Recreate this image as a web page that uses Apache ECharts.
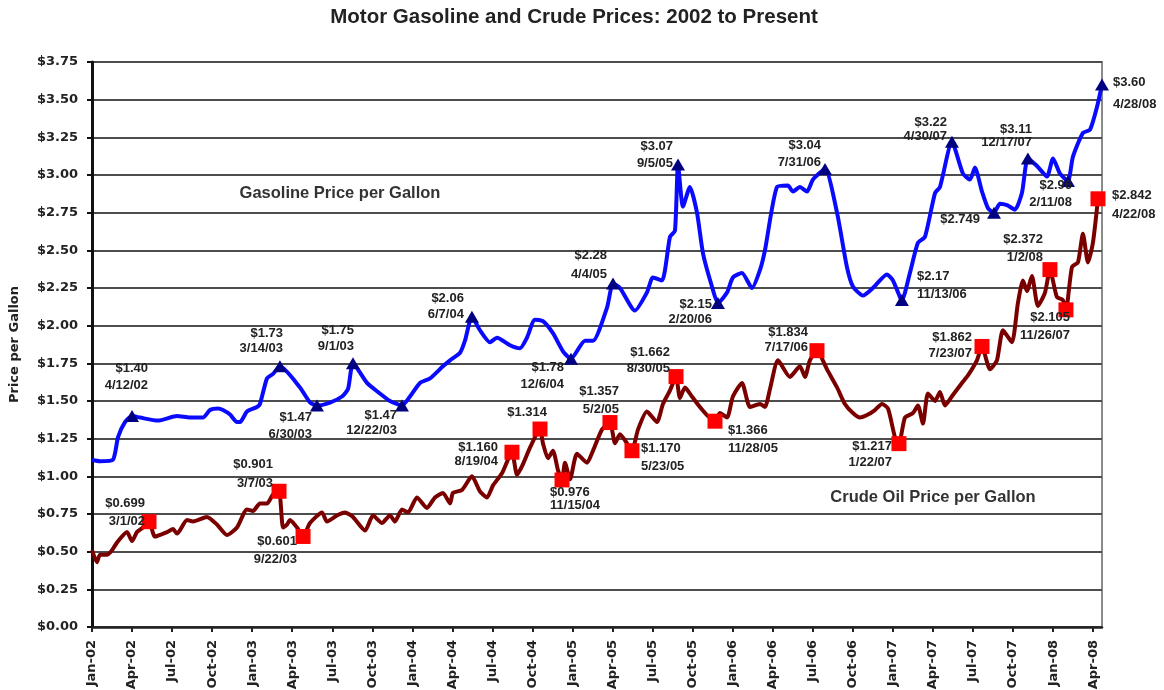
<!DOCTYPE html>
<html>
<head>
<meta charset="utf-8">
<script src="https://cdn.jsdelivr.net/npm/echarts@6/dist/echarts.min.js"></script>
<style>
html, body { margin: 0; padding: 0; background: #fff; }
#chart { width: 1164px; height: 690px; }
</style>
</head>
<body>
<div id="chart"></div>
<script>
// x values are months counted from Jan-02 (0 = Jan 2002, 3 = Apr 2002 ...)
var monthNames = ['Jan', 'Feb', 'Mar', 'Apr', 'May', 'Jun', 'Jul', 'Aug', 'Sep', 'Oct', 'Nov', 'Dec'];

// gasoline, $/gallon
var gasMonths = [0, 0.6, 1.57, 1.95, 2.47, 3.0, 3.6, 4.94, 6.37, 7.34, 8.31, 8.84, 9.44, 9.81, 10.34, 10.86, 11.09, 11.61, 12.36, 12.58,
  13.11, 13.56, 14.08, 15.58, 16.33, 16.85, 17.83, 18.73, 19.18, 19.55, 20.6, 21.42, 22.32, 23.22, 23.82, 24.57, 25.32, 26.29, 26.82, 27.57,
  27.94, 28.46, 29.06, 29.81, 30.34, 31.31, 32.06, 32.58, 33.18, 33.78, 34.53, 35.28, 35.88, 36.93, 37.53, 38.58, 39.03, 39.55, 40.67, 41.57,
  42.02, 42.7, 43.3, 43.67, 43.9, 44.27, 44.79, 45.32, 45.77, 46.44, 46.89, 47.57, 48.01, 48.69, 49.44, 50.04, 50.41, 51.31, 52.13, 52.51,
  53.03, 53.56, 54.01, 54.91, 55.81, 56.55, 57.0, 57.75, 58.5, 59.55, 60.0, 60.67, 61.27, 61.87, 62.4, 63.15, 63.52, 64.42, 65.24, 65.77,
  66.14, 66.67, 67.12, 67.57, 68.01, 68.54, 69.14, 69.66, 70.11, 70.79, 71.54, 71.99, 72.51, 73.11, 73.48, 74.23, 74.76, 75.28, 75.66];
var gasPrices = [1.11, 1.10, 1.11, 1.26, 1.36, 1.40, 1.39, 1.37, 1.40, 1.39, 1.39, 1.44, 1.45, 1.44, 1.41, 1.36, 1.36, 1.43, 1.46, 1.48,
  1.65, 1.68, 1.73, 1.59, 1.49, 1.47, 1.49, 1.53, 1.58, 1.75, 1.62, 1.56, 1.50, 1.47, 1.53, 1.62, 1.65, 1.73, 1.77, 1.82,
  1.90, 2.06, 1.97, 1.89, 1.92, 1.87, 1.85, 1.92, 2.04, 2.03, 1.95, 1.83, 1.78, 1.90, 1.90, 2.12, 2.28, 2.25, 2.10, 2.22,
  2.32, 2.30, 2.59, 2.63, 3.07, 2.79, 2.92, 2.75, 2.48, 2.26, 2.15, 2.22, 2.32, 2.35, 2.25, 2.37, 2.50, 2.92, 2.93, 2.89,
  2.92, 2.89, 2.97, 3.04, 2.75, 2.39, 2.26, 2.20, 2.25, 2.34, 2.30, 2.17, 2.35, 2.55, 2.59, 2.88, 2.92, 3.22, 3.01, 2.97,
  3.05, 2.89, 2.78, 2.749, 2.81, 2.80, 2.77, 2.88, 3.11, 3.06, 2.99, 3.11, 3.01, 2.96, 3.12, 3.28, 3.30, 3.45, 3.60];

// crude oil, $/gallon
var crudeMonths = [0, 0.37, 0.6, 1.12, 1.5, 1.87, 2.62, 3.0, 3.37, 3.82, 4.27, 4.72, 5.62, 6.07, 6.37, 7.12, 7.57, 8.61, 9.36, 10.11,
  10.86, 11.61, 12.06, 12.58, 13.11, 13.56, 14.01, 14.31, 14.61, 14.83, 15.36, 15.81, 16.33, 17.23, 17.6, 18.35, 18.95, 19.55, 20.45, 21.05,
  21.72, 22.32, 22.7, 23.22, 23.67, 24.34, 25.09, 25.69, 26.29, 26.82, 27.04, 27.72, 28.46, 29.06, 29.59, 30.04, 30.71, 31.46, 31.84, 32.28,
  32.81, 33.56, 33.78, 34.16, 34.53, 34.91, 35.21, 35.43, 35.81, 36.33, 37.08, 37.53, 38.2, 38.8, 39.18, 39.55, 40.07, 40.45, 40.9, 41.57,
  42.32, 42.77, 43.3, 43.75, 44.04, 44.42, 44.94, 45.54, 46.14, 46.67, 47.04, 47.57, 48.01, 48.69, 49.29, 50.04, 50.41, 50.79, 51.39, 52.28,
  53.03, 53.41, 53.78, 54.31, 55.06, 55.81, 56.4, 57.0, 57.53, 58.13, 58.65, 59.18, 59.63, 60.15, 60.45, 60.9, 61.5, 61.87, 62.25, 62.62,
  63.15, 63.52, 63.9, 64.49, 65.17, 65.62, 66.29, 66.67, 67.27, 67.79, 68.24, 68.91, 69.36, 69.74, 70.04, 70.41, 70.86, 71.39, 71.76, 72.28,
  72.73, 72.96, 73.41, 73.86, 74.23, 74.61, 74.98, 75.36];
var crudePrices = [0.51, 0.43, 0.48, 0.48, 0.51, 0.56, 0.63, 0.57, 0.63, 0.66, 0.699, 0.60, 0.63, 0.65, 0.62, 0.71, 0.70, 0.73, 0.68, 0.61,
  0.66, 0.78, 0.77, 0.82, 0.82, 0.88, 0.901, 0.66, 0.68, 0.71, 0.66, 0.601, 0.69, 0.76, 0.70, 0.74, 0.76, 0.73, 0.64, 0.74,
  0.69, 0.74, 0.70, 0.78, 0.76, 0.86, 0.79, 0.86, 0.89, 0.82, 0.89, 0.91, 1.00, 0.90, 0.86, 0.94, 1.02, 1.160, 1.01, 1.08,
  1.19, 1.314, 1.22, 1.12, 1.17, 1.04, 0.976, 1.09, 0.98, 1.15, 1.09, 1.17, 1.31, 1.357, 1.22, 1.28, 1.22, 1.170, 1.31, 1.43,
  1.36, 1.48, 1.57, 1.662, 1.52, 1.59, 1.53, 1.46, 1.40, 1.366, 1.42, 1.39, 1.53, 1.62, 1.46, 1.48, 1.46, 1.58, 1.77, 1.66,
  1.73, 1.66, 1.77, 1.834, 1.71, 1.59, 1.48, 1.42, 1.39, 1.41, 1.44, 1.48, 1.45, 1.26, 1.217, 1.39, 1.42, 1.47, 1.35, 1.55,
  1.50, 1.56, 1.47, 1.54, 1.62, 1.67, 1.77, 1.862, 1.71, 1.77, 1.97, 1.89, 2.15, 2.30, 2.23, 2.33, 2.13, 2.22, 2.372, 2.19,
  2.17, 2.105, 2.39, 2.42, 2.61, 2.42, 2.55, 2.842];

// highs and lows called out on the gasoline line
var gasNoteMonths = [3.0, 14.08, 16.85, 19.55, 23.22, 28.46, 35.88, 39.03, 43.9, 46.89, 54.91, 60.67, 64.42, 67.57, 70.11, 73.11, 75.66];
var gasNotePrices = [1.40, 1.73, 1.47, 1.75, 1.47, 2.06, 1.78, 2.28, 3.07, 2.15, 3.04, 2.17, 3.22, 2.749, 3.11, 2.96, 3.60];
var gasNoteLabels = ['$1.40', '$1.73', '$1.47', '$1.75', '$1.47', '$2.06', '$1.78', '$2.28', '$3.07', '$2.15', '$3.04', '$2.17', '$3.22', '$2.749', '$3.11', '$2.96', '$3.60'];
var gasNoteDates = ['4/12/02', '3/14/03', '6/30/03', '9/1/03', '12/22/03', '6/7/04', '12/6/04', '4/4/05', '9/5/05', '2/20/06', '7/31/06', '11/13/06', '4/30/07', '', '12/17/07', '2/11/08', '4/28/08'];

// highs and lows called out on the crude line
var crudeNoteMonths = [4.27, 14.01, 15.81, 31.46, 33.56, 35.21, 38.8, 40.45, 43.75, 46.67, 54.31, 60.45, 66.67, 71.76, 72.96, 75.36];
var crudeNotePrices = [0.699, 0.901, 0.601, 1.160, 1.314, 0.976, 1.357, 1.170, 1.662, 1.366, 1.834, 1.217, 1.862, 2.372, 2.105, 2.842];
var crudeNoteLabels = ['$0.699', '$0.901', '$0.601', '$1.160', '$1.314', '$0.976', '$1.357', '$1.170', '$1.662', '$1.366', '$1.834', '$1.217', '$1.862', '$2.372', '$2.105', '$2.842'];
var crudeNoteDates = ['3/1/02', '3/7/03', '9/22/03', '8/19/04', '', '11/15/04', '5/2/05', '5/23/05', '8/30/05', '11/28/05', '7/17/06', '1/22/07', '7/23/07', '1/2/08', '11/26/07', '4/22/08'];

// where each callout text sits relative to its marker: [dx, dy, align, lineHeight]
var gasNoteLayout = [[16, -56, 'right', 17], [3, -40, 'right', 15], [-5, 3, 'right', 17], [1, -41, 'right', 16], [-5, 2, 'right', 15],
  [-8, -26, 'right', 16], [-7, 0, 'right', 17], [-6, -38, 'right', 19], [-5, -27, 'right', 17], [-6, -6, 'right', 15],
  [-4, -32, 'right', 17], [15, -33, 'left', 18], [-5, -26, 'right', 14], [-14, -1, 'right', 16], [4, -36, 'right', 13],
  [4, -4, 'right', 17], [11, -13, 'left', 22]];
var crudeNoteLayout = [[-4, -27, 'right', 18], [-6, -36, 'right', 19], [-6, -4, 'right', 18], [-14, -12, 'right', 14], [7, -25, 'right', 16],
  [-12, 6, 'left', 13], [9, -40, 'right', 18], [9, -11, 'left', 18], [-6, -32, 'right', 16], [13, 0, 'left', 18],
  [-9, -26, 'right', 15], [-7, -5, 'right', 16], [-10, -17, 'right', 16], [-7, -39, 'right', 18], [4, -1, 'right', 18],
  [14, -13, 'left', 19]];

function pairs(xs, ys) {
  return xs.map(function (x, i) { return [x, ys[i]]; });
}

function notes(months, prices, labels, dates, layout) {
  return months.map(function (m, i) {
    var l = layout[i];
    return {
      value: [m, prices[i]],
      label: {
        formatter: labels[i] + (dates[i] ? '\n' + dates[i] : ''),
        offset: [l[0], l[1]],
        align: l[2],
        lineHeight: l[3]
      }
    };
  });
}

var noteLabel = {
  show: true,
  position: 'inside',
  verticalAlign: 'top',
  color: '#222',
  fontFamily: 'Liberation Sans',
  fontWeight: 'bold',
  fontSize: 13,
  textBorderWidth: 0
};

var chart = echarts.init(document.getElementById('chart'));
chart.setOption({
  animation: false,
  backgroundColor: '#fff',
  grid: {
    left: 92, right: 62, top: 62, bottom: 63,
    outerBoundsMode: 'none',
    show: true, borderColor: '#8a8a8a', borderWidth: 2
  },
  graphic: [
    { type: 'text', x: 574, y: 17, style: { text: 'Motor Gasoline and Crude Prices: 2002 to Present', font: 'bold 20.5px "Liberation Sans"', fill: '#222', textAlign: 'center', textVerticalAlign: 'middle' } },
    { type: 'text', x: 340, y: 193, style: { text: 'Gasoline Price per Gallon', font: 'bold 16.5px "Liberation Sans"', fill: '#333', textAlign: 'center', textVerticalAlign: 'middle' } },
    { type: 'text', x: 933, y: 497, style: { text: 'Crude Oil Price per Gallon', font: 'bold 16.5px "Liberation Sans"', fill: '#333', textAlign: 'center', textVerticalAlign: 'middle' } }
  ],
  xAxis: {
    type: 'value',
    min: 0,
    max: 75.66,
    interval: 3,
    axisLine: { show: true, lineStyle: { color: '#222', width: 2.5 } },
    axisTick: { show: true, length: 5, lineStyle: { color: '#222', width: 2 } },
    splitLine: { show: false },
    axisLabel: {
      rotate: 90,
      margin: 13,
      color: '#222',
      fontFamily: 'DejaVu Sans',
      fontWeight: 'bold',
      fontSize: 13,
      showMaxLabel: false,
      formatter: function (v) {
        var m = Math.round(v);
        if (Math.abs(v - m) > 1e-6 || m % 3) return '';
        var yr = 2 + Math.floor(m / 12);
        return monthNames[m % 12] + '-' + (yr < 10 ? '0' + yr : yr);
      }
    }
  },
  yAxis: {
    type: 'value',
    min: 0,
    max: 3.75,
    interval: 0.25,
    name: 'Price per Gallon',
    nameLocation: 'middle',
    nameRotate: 90,
    nameGap: 71,
    nameTextStyle: { color: '#222', fontFamily: 'DejaVu Sans', fontWeight: 'bold', fontSize: 13 },
    axisLine: { show: true, lineStyle: { color: '#111', width: 3 } },
    axisTick: { show: true, length: 5, lineStyle: { color: '#111', width: 2 } },
    splitLine: { show: true, lineStyle: { color: '#4d4d4d', width: 2 } },
    axisLabel: {
      margin: 14,
      color: '#222',
      fontFamily: 'DejaVu Sans',
      fontWeight: 'bold',
      fontSize: 13,
      formatter: function (v) { return '$' + v.toFixed(2); }
    }
  },
  series: [
    {
      name: 'Gasoline',
      type: 'line',
      data: pairs(gasMonths, gasPrices),
      showSymbol: false,
      smooth: 0.2,
      lineStyle: { color: '#0a0aff', width: 4, join: 'round' },
      z: 2
    },
    {
      name: 'Crude Oil',
      type: 'line',
      data: pairs(crudeMonths, crudePrices),
      showSymbol: false,
      smooth: 0.2,
      lineStyle: { color: '#7a0000', width: 4, join: 'round' },
      z: 2
    },
    {
      name: 'Gasoline notes',
      type: 'scatter',
      symbol: 'triangle',
      symbolSize: [14, 12],
      itemStyle: { color: '#000080', opacity: 1 },
      label: noteLabel,
      data: notes(gasNoteMonths, gasNotePrices, gasNoteLabels, gasNoteDates, gasNoteLayout),
      z: 4
    },
    {
      name: 'Crude notes',
      type: 'scatter',
      symbol: 'rect',
      symbolSize: 15,
      itemStyle: { color: '#ff0000', opacity: 1 },
      label: noteLabel,
      data: notes(crudeNoteMonths, crudeNotePrices, crudeNoteLabels, crudeNoteDates, crudeNoteLayout),
      z: 4
    }
  ]
});
</script>
</body>
</html>
